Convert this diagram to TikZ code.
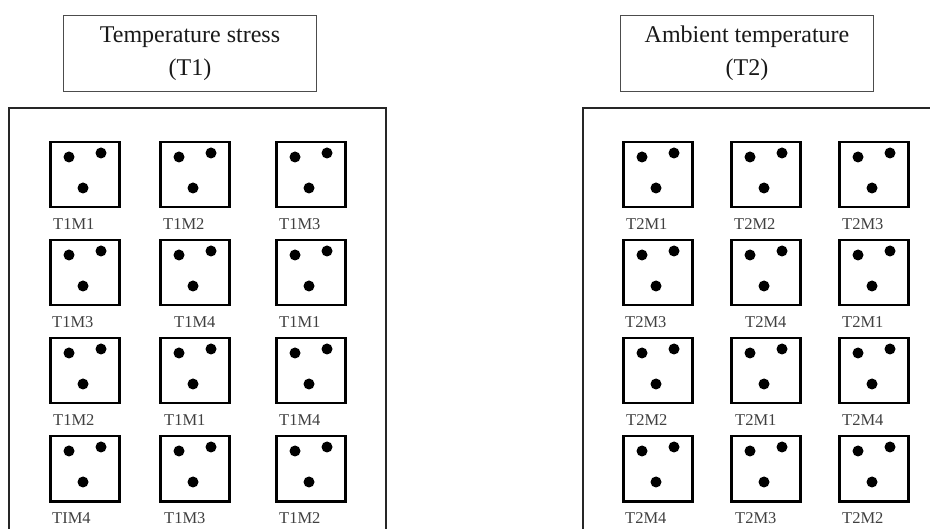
\documentclass[tikz,border=0pt]{standalone}
\usepackage{fontspec}
\setmainfont{Liberation Serif}
\usetikzlibrary{calc}
\begin{document}
\begin{tikzpicture}[x=1pt,y=-1pt,
  titlebox/.style={draw=black!70, line width=1.3pt, minimum width=253pt, minimum height=76pt, align=center, font=\fontsize{24}{33}\selectfont, text=black!90, inner sep=0pt},
  panel/.style={draw=black!85, line width=2pt},
  cell/.style={draw=black, line width=2.5pt, minimum width=69pt, minimum height=65pt, inner sep=0pt, anchor=north west},
  lbl/.style={font=\fontsize{16.5}{18}\selectfont, text=black!75, anchor=west, inner sep=0pt}]
\useasboundingbox (0,0) rectangle (930,529);
\clip (0,0) rectangle (930,529);
\fill[white] (0,0) rectangle (930,529);
% titles
\node[titlebox] (t1) at (190,53.5) {Temperature stress\\(T1)};
\node[titlebox] (t2) at (747,53.5) {Ambient temperature\\(T2)};
% panels
\draw[panel] (9,108) rectangle (386,560);
\draw[panel] (583,108) rectangle (945,560);
% cells
\foreach \s/\cx in {L1/49, L2/159, L3/275, R1/622, R2/730, R3/838}{
  \foreach \r/\y in {1/141,2/239,3/337,4/435}{
    \node[cell] (\s\r) at (\cx,\y) {};
    \fill ($(\s\r.north west)+(20,16)$) circle (5.5);
    \fill ($(\s\r.north west)+(52,12)$) circle (5.5);
    \fill ($(\s\r.north west)+(34,47)$) circle (5.5);
  }
}
% labels left
\node[lbl] at ($(L11.south west)+(4,16)$) {T1M1};
\node[lbl] at ($(L21.south west)+(4,16)$) {T1M2};
\node[lbl] at ($(L31.south west)+(4,16)$) {T1M3};
\node[lbl] at ($(L12.south west)+(3,16)$) {T1M3};
\node[lbl] at ($(L22.south west)+(15,16)$) {T1M4};
\node[lbl] at ($(L32.south west)+(4,16)$) {T1M1};
\node[lbl] at ($(L13.south west)+(4,16)$) {T1M2};
\node[lbl] at ($(L23.south west)+(5,16)$) {T1M1};
\node[lbl] at ($(L33.south west)+(4,16)$) {T1M4};
\node[lbl] at ($(L14.south west)+(3,16)$) {TIM4};
\node[lbl] at ($(L24.south west)+(5,16)$) {T1M3};
\node[lbl] at ($(L34.south west)+(4,16)$) {T1M2};
% labels right
\node[lbl] at ($(R11.south west)+(4,16)$) {T2M1};
\node[lbl] at ($(R21.south west)+(4,16)$) {T2M2};
\node[lbl] at ($(R31.south west)+(4,16)$) {T2M3};
\node[lbl] at ($(R12.south west)+(3,16)$) {T2M3};
\node[lbl] at ($(R22.south west)+(15,16)$) {T2M4};
\node[lbl] at ($(R32.south west)+(4,16)$) {T2M1};
\node[lbl] at ($(R13.south west)+(4,16)$) {T2M2};
\node[lbl] at ($(R23.south west)+(5,16)$) {T2M1};
\node[lbl] at ($(R33.south west)+(4,16)$) {T2M4};
\node[lbl] at ($(R14.south west)+(3,16)$) {T2M4};
\node[lbl] at ($(R24.south west)+(5,16)$) {T2M3};
\node[lbl] at ($(R34.south west)+(4,16)$) {T2M2};
\end{tikzpicture}
\end{document}
